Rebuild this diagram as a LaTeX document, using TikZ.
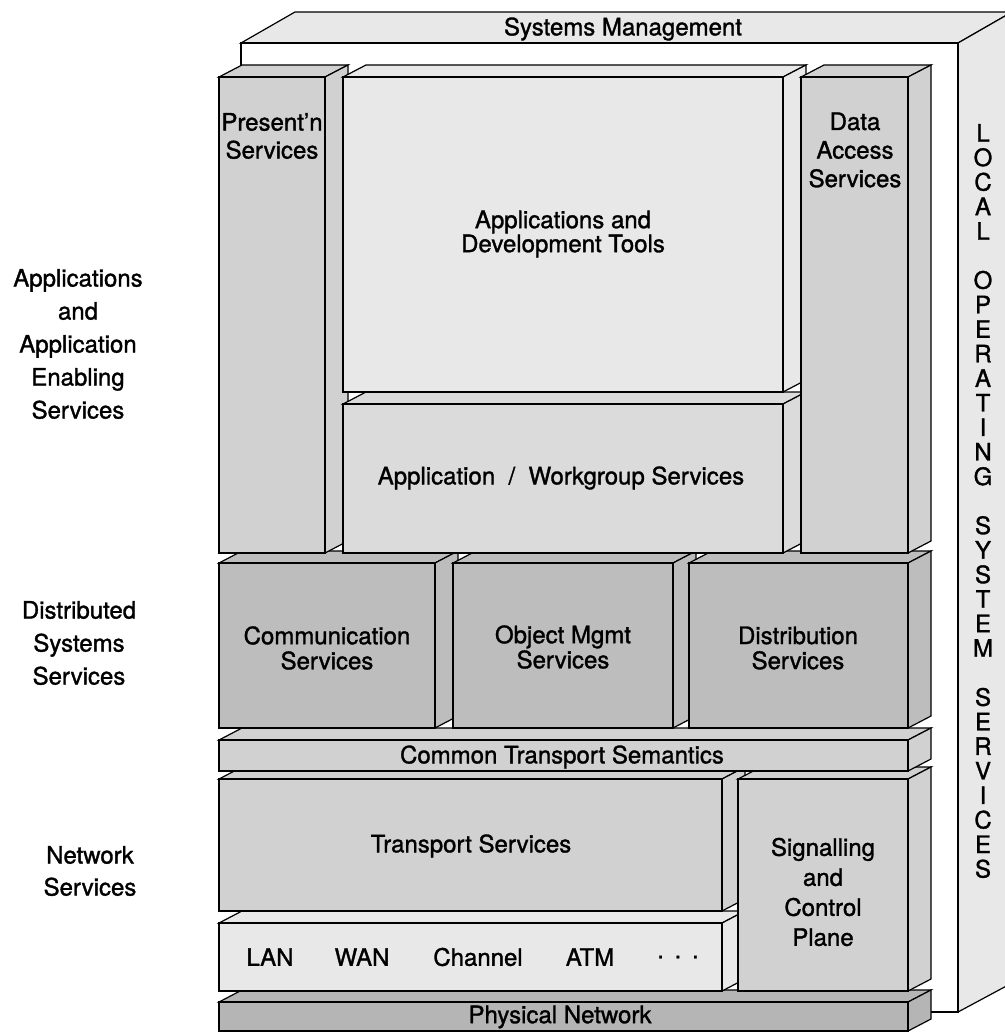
\documentclass[tikz,border=0pt]{standalone}
\usepackage{fontspec}
\setmainfont{TeX Gyre Heros}[FakeBold=1.3]

% shades of the stippled faces
\definecolor{shadeA}{gray}{0.91}
\definecolor{shadeB}{gray}{0.86}
\definecolor{shadeC}{gray}{0.82}
\definecolor{shadeD}{gray}{0.74}
\definecolor{shadeE}{gray}{0.71}

\tikzset{
  edge/.style={draw=black, line width=0.9pt, line join=miter},
  lbl/.style={font=\fontsize{18}{#1}\selectfont, align=center, inner sep=0pt, text=black},
  lbl/.default=21,
}

% a block seen from the front: top face, right face, front face
% #1,#2 = front top-left, #3,#4 = front bottom-right, #5 = fill
\newcommand\slab[5]{%
  \filldraw[edge, fill=#5] (#1,#2) -- ({#1+23},{#2-12}) -- ({#3+23},{#2-12}) -- (#3,#2) -- cycle;
  \filldraw[edge, fill=#5] (#3,#2) -- ({#3+23},{#2-12}) -- ({#3+23},{#4-12}) -- (#3,#4) -- cycle;
  \filldraw[edge, fill=#5] (#1,#2) rectangle (#3,#4);
}

\begin{document}
\begin{tikzpicture}[x=0.75pt, y=-0.75pt]
\useasboundingbox (0,0) rectangle (1005,1034);

% outer frame: systems management on top, local operating system services on the right
\filldraw[edge, fill=shadeA] (241,43) -- (295,12) -- (1012,12) -- (958,43) -- cycle;
\filldraw[edge, fill=shadeA] (958,43) -- (1012,12) -- (1012,983) -- (958,1012) -- cycle;
\filldraw[edge, fill=white] (241,43) rectangle (958,1012);

\node[lbl] (sysmgmt) at (623,29) {Systems Management};
\node[lbl=18.4] (localos) at (983,501)
  {L\\O\\C\\A\\L\\~\\O\\P\\E\\R\\A\\T\\I\\N\\G\\~\\S\\Y\\S\\T\\E\\M\\~\\S\\E\\R\\V\\I\\C\\E\\S};

% network services
\slab{219}{1002}{908}{1031}{shadeE}
\slab{219}{923}{722}{991}{shadeA}
\slab{219}{779}{722}{911}{shadeC}
\slab{738}{779}{908}{991}{shadeC}
\slab{219}{740}{908}{771}{shadeC}

% distributed systems services
\slab{219}{563}{435}{728}{shadeD}
\slab{453}{563}{673}{728}{shadeD}
\slab{689}{563}{908}{728}{shadeD}

% applications and application enabling services
\slab{219}{77}{325}{553}{shadeC}
\slab{343}{404}{783}{553}{shadeB}
\slab{343}{77}{783}{392}{shadeA}
\slab{801}{77}{908}{553}{shadeC}

% block labels
\node[lbl] (phys) at (560,1017) {Physical Network};
\node[lbl] (lan) at (270,957) {LAN};
\node[lbl] (wan) at (362,957) {WAN};
\node[lbl] (chan) at (478,957) {Channel};
\node[lbl] (atm) at (590,957) {ATM};
\node[lbl] (more) at (678,957) {.\hspace{0.45em}.\hspace{0.45em}.};
\node[lbl] (trans) at (471,846) {Transport Services};
\node[lbl=22.5] (signal) at (823,892) {Signalling\\and\\Control\\Plane};
\node[lbl] (cts) at (562,757) {Common Transport Semantics};
\node[lbl=18.8] (comm) at (327,648) {Communication\\Services};
\node[lbl=18.8] (obj) at (563,647) {Object Mgmt\\Services};
\node[lbl=18.8] (dist) at (798,648) {Distribution\\Services};
\node[lbl] (wkgp) at (561,478) {Application\ \ /\ \ Workgroup Services};
\node[lbl=18] (apps) at (563,234) {Applications and\\Development Tools};
\node[lbl] (pres) at (272,136) {Present'n\\Services};
\node[lbl=21.4] (data) at (855,150) {Data\\Access\\Services};

% layer labels
\node[lbl=24.75] (layerA) at (78,344) {Applications\\and\\Application\\Enabling\\Services};
\node[lbl=24.75] (layerB) at (79,643) {Distributed\\Systems\\Services};
\node[lbl=24] (layerC) at (90,871) {Network\\Services};
\end{tikzpicture}
\end{document}
